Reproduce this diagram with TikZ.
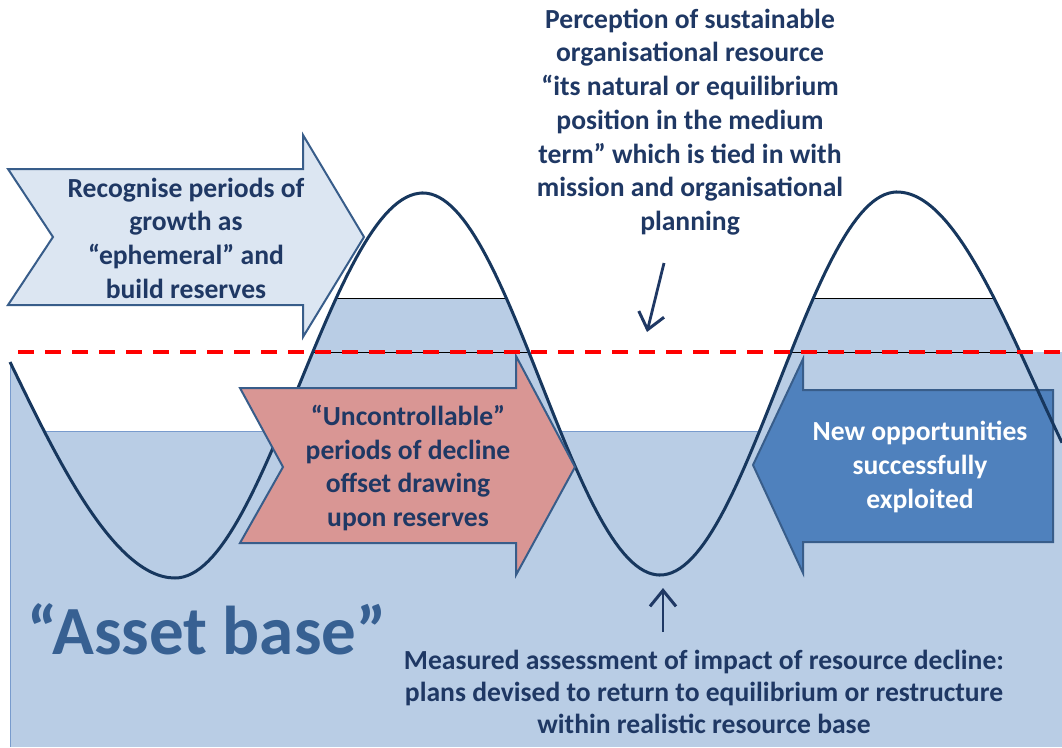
\documentclass[tikz,border=0pt]{standalone}
\usepackage{fontspec}
\setmainfont{Carlito}
\usepackage{tikz}
\usetikzlibrary{arrows.meta}
\definecolor{baseblue}{RGB}{185,205,229}
\definecolor{paleblue}{RGB}{220,230,242}
\definecolor{rosered}{RGB}{217,150,148}
\definecolor{midblue}{RGB}{79,129,189}
\definecolor{edgeblue}{RGB}{56,93,138}
\definecolor{wavenavy}{RGB}{23,55,94}
\definecolor{textnavy}{RGB}{31,56,100}
\definecolor{assetblue}{RGB}{55,96,146}
\definecolor{rimblue}{RGB}{120,155,205}
\tikzset{>={Straight Barb[length=16pt,width=26pt,line width=3pt]}}
\tikzset{
  txt/.style={align=center,inner sep=0pt,text=textnavy,font=\bfseries\fontsize{27.6}{33.7}\selectfont},
  blockarrow/.style={draw=edgeblue,line width=2pt,line join=miter},
  pointer/.style={->,draw=textnavy,line width=2.8pt},
  eqline/.style={draw=red,line width=3.4pt,dash pattern=on 16pt off 11pt},
  rim/.style={draw=rimblue,line width=0.9pt}
}
\newcommand\wavepath{(10,362) .. controls (52,448) and (112,578) .. (175,578)
  -- plot[domain=175:423,samples=60] (\x,{385.5+192.5*cos((\x-175)/248*180)})
  -- plot[domain=423:660,samples=60] (\x,{384-191*cos((\x-423)/237*180)})
  -- plot[domain=660:897,samples=60] (\x,{383.5+191.5*cos((\x-660)/237*180)})
  -- plot[domain=897:1062,samples=50] (\x,{383.5-191.5*cos((\x-897)/275*180)})}

\begin{document}
\begin{tikzpicture}[x=1pt,y=-1pt]
\useasboundingbox (0,0) rectangle (1062,747);

% asset base
\fill[baseblue] (10,352) rectangle (1062,747);
\draw[rim] (10,352) -- (10,747);

% valleys above the wave
\begin{scope}
\clip (10,352) rectangle (897,440);
\clip \wavepath -- (1062,340) -- (10,340) -- cycle;
\fill[white] (10,352) rectangle (897,431);
\draw[rim] (10,431) -- (897,431);
\end{scope}

% peaks above the base
\begin{scope}
\clip \wavepath -- (1062,760) -- (10,760) -- cycle;
\fill[baseblue] (10,298) rectangle (1062,352);
\draw[black,line width=0.8pt] (10,298) -- (1062,298) (10,352) -- (1062,352);
\end{scope}

% block arrows
\draw[blockarrow,fill=midblue] (1053,390) -- (803,390) -- (803,359) -- (753,465) -- (803,573) -- (803,542) -- (1053,542) -- cycle;
\draw[wavenavy,line width=3pt] \wavepath;
\draw[blockarrow,fill=paleblue] (8,169) -- (303,169) -- (303,135) -- (364,237) -- (303,337) -- (303,305) -- (8,305) -- (53,237) -- cycle;
\draw[blockarrow,fill=rosered] (240,388) -- (516,388) -- (516,356) -- (575,467) -- (516,575) -- (516,543) -- (240,543) -- (283,467) -- cycle;

\draw[eqline] (18,352) -- (1062,352);

\path (186,238) node [txt] (growth) {Recognise periods of\\growth as\\“ephemeral” and\\build reserves};

\path (408,468) node [txt] (decline) {“Uncontrollable”\\periods of decline\\offset drawing\\upon reserves};

\path (920,467) node [txt,text=white] (opport) {New opportunities\\successfully\\exploited};

\path (690,122) node [txt] (percep) {Perception of sustainable\\organisational resource\\“its natural or equilibrium\\position in the medium\\term” which is tied in with\\mission and organisational\\planning};

\path (704,692) node [txt,font=\bfseries\fontsize{27.6}{32}\selectfont] (measured) {Measured assessment of impact of resource decline:\\plans devised to return to equilibrium or restructure\\within realistic resource base};

\path (207,629) node [txt,text=assetblue,font=\bfseries\fontsize{69}{75}\selectfont] (asset) {“Asset base”};

\coordinate (perctail) at (664,263);
\coordinate (eqpoint) at (647,332);
\coordinate (meastail) at (663,632);
\coordinate (troughpoint) at (663,588);
\draw[pointer] (perctail) -- (eqpoint);
\draw[pointer] (meastail) -- (troughpoint);

\end{tikzpicture}
\end{document}
